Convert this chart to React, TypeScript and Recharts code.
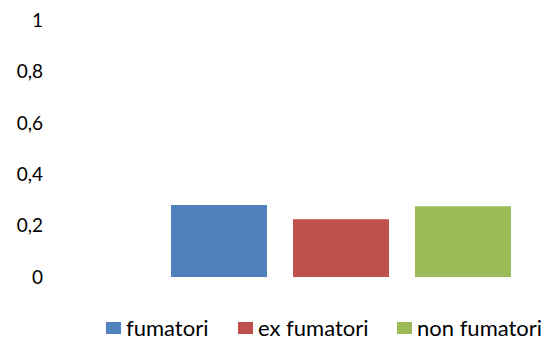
import React from "react";
import { BarChart, Bar, XAxis, YAxis } from "recharts";

const categories = ["gruppo"];
const seriesNames = ["fumatori", "ex fumatori", "non fumatori"];
const fumatori = [0.28];
const exFumatori = [0.225];
const nonFumatori = [0.275];
const yTicks = [0, 0.2, 0.4, 0.6, 0.8, 1];
const colors = ["#4F81BD", "#C0504D", "#9BBB59"];
// left edge of each legend entry
const legendX = [106, 238, 397];

const data = categories.map((c, i) => ({
  name: c,
  [seriesNames[0]]: fumatori[i],
  [seriesNames[1]]: exFumatori[i],
  [seriesNames[2]]: nonFumatori[i],
}));

const FONT = "Lato, 'Open Sans', sans-serif";

const formatTick = (v: number) => String(v).replace(".", ",");

export default function App() {
  return (
    <div style={{ position: "absolute", left: 0, top: 0, width: 546, height: 340, background: "#fff" }}>
      <BarChart
        width={546}
        height={340}
        data={data}
        margin={{ top: 20, right: 0, bottom: 63, left: 0 }}
        barSize={96}
        barGap={26}
      >
        <XAxis dataKey="name" hide padding={{ left: 86, right: 0 }} />
        <YAxis
          width={50}
          domain={[0, 1]}
          ticks={yTicks}
          tickFormatter={formatTick}
          axisLine={false}
          tickLine={false}
          tickSize={0}
          tickMargin={7}
          interval={0}
          tick={{ fill: "#000", fontSize: 19, fontFamily: FONT }}
        />
        {seriesNames.map((s, i) => (
          <Bar key={s} dataKey={s} fill={colors[i]} isAnimationActive={false} />
        ))}
      </BarChart>
      {seriesNames.map((s, i) => (
        <div
          key={s}
          style={{
            position: "absolute",
            left: legendX[i],
            top: 317,
            height: 22,
            display: "flex",
            alignItems: "center",
            fontFamily: FONT,
            fontSize: 22,
            lineHeight: "22px",
            color: "#000",
            whiteSpace: "nowrap",
          }}
        >
          <span style={{ display: "inline-block", width: 15, height: 12, background: colors[i], marginRight: 5 }} />
          <span>{s}</span>
        </div>
      ))}
    </div>
  );
}
